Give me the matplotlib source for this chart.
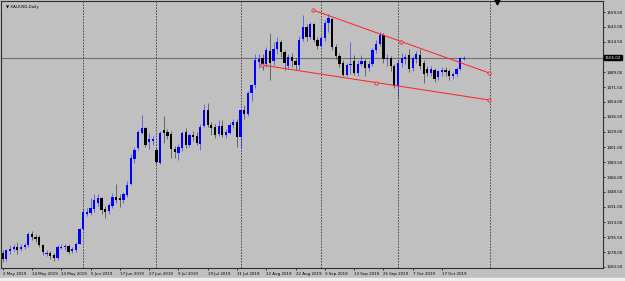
import matplotlib
matplotlib.use("Agg")
import matplotlib.pyplot as plt
from matplotlib.transforms import blended_transform_factory

# daily XAUUSD bars, 2 May 2019 .. 25 Oct 2019 (bar index = trading day)
opens = [1277, 1270, 1279, 1281, 1284, 1281, 1284, 1286, 1299, 1296,
         1296, 1286, 1276, 1277, 1274, 1271, 1283, 1284, 1285, 1279,
         1280, 1288, 1305, 1323, 1324, 1328, 1336, 1341, 1328, 1326,
         1332, 1342, 1341, 1339, 1345, 1358, 1387, 1400, 1418, 1423,
         1407, 1408, 1398, 1383, 1421, 1419, 1416, 1399, 1394, 1400,
         1419, 1404, 1415, 1414, 1405, 1426, 1445, 1427, 1425, 1417,
         1426, 1415, 1418, 1427, 1431, 1413, 1445, 1440, 1464, 1474,
         1501, 1505, 1498, 1514, 1502, 1516, 1524, 1513, 1496, 1507,
         1502, 1497, 1528, 1542, 1530, 1545, 1527, 1520, 1529, 1547,
         1551, 1518, 1508, 1500, 1486, 1497, 1502, 1488, 1498, 1502,
         1494, 1498, 1515, 1522, 1532, 1504, 1506, 1496, 1473, 1500,
         1504, 1509, 1494, 1504, 1509, 1500, 1493, 1488, 1492, 1483,
         1489, 1491, 1490, 1484, 1487, 1493, 1504.5]
highs = [1280, 1282, 1286, 1287, 1290, 1287, 1289, 1302, 1303, 1299,
         1298, 1288, 1280, 1279, 1277, 1286, 1287, 1288, 1287, 1284,
         1290, 1306, 1328, 1330, 1341, 1346, 1346, 1343, 1332, 1336,
         1347, 1358, 1346, 1349, 1361, 1393, 1401, 1421, 1439, 1425,
         1418, 1414, 1400, 1420, 1437, 1422, 1420, 1402, 1405, 1420,
         1423, 1418, 1420, 1419, 1428, 1452, 1453, 1431, 1428, 1433,
         1433, 1422, 1431, 1434, 1434, 1446, 1450, 1467, 1475, 1510,
         1510, 1510, 1519, 1535, 1524, 1530, 1527, 1515, 1510, 1512,
         1506, 1531, 1556, 1546, 1548, 1547, 1530, 1531, 1550, 1557,
         1553, 1522, 1512, 1503, 1500, 1524, 1509, 1503, 1509, 1504,
         1502, 1517, 1527, 1536, 1535, 1510, 1508, 1498, 1503, 1512,
         1510, 1516, 1508, 1514, 1516, 1503, 1496, 1496, 1494, 1492,
         1495, 1495, 1493, 1489, 1495, 1507, 1508]
lows = [1266, 1267, 1276, 1279, 1276, 1279, 1282, 1284, 1292, 1290,
        1284, 1274, 1273, 1270, 1268, 1269, 1281, 1280, 1276, 1277,
        1278, 1287, 1304, 1320, 1322, 1325, 1332, 1323, 1318, 1323,
        1330, 1335, 1331, 1336, 1343, 1357, 1383, 1398, 1416, 1401,
        1399, 1404, 1381, 1381, 1406, 1410, 1388, 1388, 1386, 1396,
        1400, 1401, 1408, 1403, 1398, 1425, 1425, 1415, 1412, 1414,
        1413, 1412, 1416, 1424, 1401, 1400, 1434, 1438, 1455, 1470,
        1494, 1492, 1495, 1480, 1497, 1510, 1507, 1492, 1493, 1495,
        1492, 1492, 1525, 1526, 1528, 1524, 1516, 1518, 1525, 1536,
        1515, 1504, 1495, 1484, 1484, 1487, 1486, 1485, 1496, 1484,
        1490, 1496, 1511, 1520, 1500, 1496, 1490, 1470, 1459, 1495,
        1498, 1489, 1490, 1500, 1493, 1476, 1484, 1485, 1478, 1480,
        1485, 1484, 1480, 1481, 1485, 1491, 1503]
closes = [1270, 1280, 1282, 1284, 1280, 1284, 1286, 1299, 1296, 1293,
          1286, 1278, 1277, 1273, 1271, 1283.5, 1284.5, 1285.5, 1278, 1281,
          1288, 1305, 1325, 1325.5, 1330, 1339, 1341, 1327, 1325, 1333,
          1342, 1339, 1339.5, 1346, 1357, 1388, 1398, 1419, 1423, 1403,
          1410, 1410.5, 1384, 1418, 1418, 1414, 1399, 1395, 1401, 1418,
          1404, 1415, 1413, 1406, 1425, 1445, 1427, 1424, 1415, 1426,
          1415, 1419, 1427, 1431, 1413, 1444, 1440, 1464, 1474, 1503,
          1504, 1497, 1515, 1500, 1516, 1524, 1513, 1500, 1507, 1502,
          1497, 1527, 1542, 1530, 1545, 1527, 1520, 1529, 1547, 1552,
          1518, 1508, 1499, 1486, 1497, 1499, 1488, 1498, 1502, 1494,
          1498, 1515, 1522, 1532, 1504, 1506, 1496, 1473, 1500, 1506,
          1507, 1493, 1505, 1510, 1496, 1487, 1488, 1493, 1481, 1490,
          1491, 1489, 1484, 1487, 1493, 1505, 1506]

date_ticks = [0, 8, 16, 24, 32, 40, 48, 56, 64, 72, 80, 88, 96, 104, 112, 120]
date_labels = ["2 May 2019", "14 May 2019", "24 May 2019", "5 Jun 2019",
               "17 Jun 2019", "27 Jun 2019", "9 Jul 2019", "19 Jul 2019",
               "31 Jul 2019", "12 Aug 2019", "22 Aug 2019", "3 Sep 2019",
               "13 Sep 2019", "25 Sep 2019", "7 Oct 2019", "17 Oct 2019"]
month_lines = [22, 42, 65, 87, 108, 133]
price_ticks = [1559.5, 1542.0, 1524.5, 1489.0, 1471.5, 1454.0, 1436.5, 1419.0,
               1401.0, 1383.5, 1366.0, 1348.5, 1331.0, 1313.0, 1295.5, 1278.0,
               1260.5]
last_price = 1506.02

# trendlines (bar index, price) start/end
upper_line = [(84.8, 1561.8), (132.9, 1488.0)]
lower_line = [(70.9, 1497.3), (132.9, 1456.3)]

bg = "#c0c0c0"
fs = 2.9
fig = plt.figure(figsize=(6.25, 2.81), dpi=100, facecolor=bg)
ax = fig.add_axes([1 / 625, 13 / 281, 602 / 625, 267 / 281], facecolor=bg)
ax.set_xlim(-0.46, 164.0)
ax.set_ylim(1259.3, 1572.4)

for m in month_lines:
    ax.axvline(m, color="#3c3c3c", lw=0.6, ls=(0, (2, 1.5)), zorder=1)
ax.axhline(last_price, color="#707070", lw=0.8, zorder=1)

for i in range(len(opens)):
    o, h, l, c = opens[i], highs[i], lows[i], closes[i]
    col = "#0000ff" if c >= o else "#000000"
    ax.vlines(i, l, h, color=col, lw=0.6, alpha=0.55, zorder=2)
    ax.bar(i, max(abs(c - o), 0.6), bottom=min(o, c), width=0.62,
           color=col, edgecolor="none", zorder=3)

for ln in (upper_line, lower_line):
    (x0, y0), (x1, y1) = ln
    ax.plot([x0, x1], [y0, y1], color="#ff2020", lw=0.7, zorder=4)
    ax.plot([x0, (x0 + x1) / 2, x1], [y0, (y0 + y1) / 2, y1], ls="none",
            marker="o", ms=2.4, mfc=bg, mec="#ff2020", mew=0.6, zorder=5)

ax.yaxis.tick_right()
ax.set_yticks(price_ticks)
ax.set_yticklabels(["%.2f" % p for p in price_ticks])
ax.set_xticks(date_ticks)
ax.set_xticklabels(date_labels, ha="left")
ax.tick_params(axis="both", labelsize=fs, length=1.5, width=0.5, pad=0.8,
               colors="#000000")
ax.tick_params(axis="x", pad=1.5)
for s in ax.spines.values():
    s.set_color("#303030")
    s.set_linewidth(0.8)

tr = blended_transform_factory(ax.transAxes, ax.transData)
ax.text(1.003, last_price, "%.2f" % last_price, transform=tr, fontsize=fs,
        color="white", va="center", ha="left",
        bbox=dict(boxstyle="square,pad=0.2", fc="black", ec="black"))

ax.text(0.008, 0.985, "\u25bc XAUUSD,Daily", transform=ax.transAxes,
        fontsize=fs, va="top", ha="left", color="black")
ax.plot([135], [1571.0], marker="v", color="black", ms=3.5, clip_on=False,
        zorder=6)

fig.patches.append(plt.Rectangle((0, 0), 1, 3 / 281, transform=fig.transFigure,
                                 color="#eeeeee", zorder=0))

fig.savefig("out.png", dpi=100, facecolor=bg)
